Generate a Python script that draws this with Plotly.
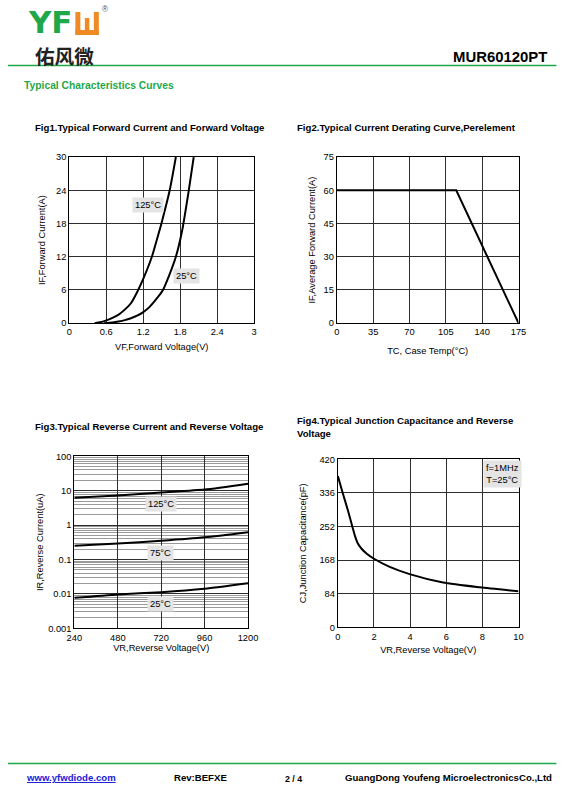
"""MUR60120PT typical characteristics curves page, redrawn with Plotly"""

import plotly.graph_objects as go

W, H = 565, 804
FONT = "Liberation Sans, Arial, sans-serif"
GREEN = "#1fa84a"
ORANGE = "#f08a24"

# the photographed page comes out slightly shrunk and shifted, so positions taken
# off the reference are mapped back through this before use
SHRINK_X, SHIFT_X = 0.97, 7.5
SHRINK_Y, SHIFT_Y = 0.987, 5.0
FONT_UP = 1 / SHRINK_X

# Fig1 - forward current vs forward voltage
fwd_v_125 = [0.41, 0.5, 0.6, 0.7, 0.8, 0.9, 1.0, 1.1, 1.2, 1.34, 1.46, 1.5, 1.63, 1.73]
fwd_i_125 = [0, 0.15, 0.5, 0.95, 1.55, 2.45, 3.6, 5.6, 8.0, 12, 16.6, 18.2, 24, 30]
fwd_v_25 = [0.56, 0.7, 0.8, 0.9, 1.0, 1.1, 1.2, 1.3, 1.43, 1.52, 1.62, 1.73, 1.83, 1.94, 2.02]
fwd_i_25 = [0, 0.12, 0.3, 0.55, 0.9, 1.35, 2.0, 2.9, 4.6, 6.0, 8.6, 12, 16.6, 24, 30]

# Fig2 - current derating
case_temp = [0, 115, 175]
avg_current = [60, 60, 0]

# Fig3 - reverse current vs reverse voltage
rev_v = [240, 480, 720, 960, 1200]
rev_i_125 = [6.2, 7.3, 8.9, 10.8, 16]
rev_i_75 = [0.25, 0.29, 0.35, 0.44, 0.62]
rev_i_25 = [0.0077, 0.0097, 0.0112, 0.0141, 0.0204]

# Fig4 - junction capacitance
cap_v = [0, 0.28, 0.55, 0.83, 0.95, 1.1, 1.3, 1.6, 1.98, 2.87, 3.97, 5.82, 7.86, 10]
cap_pf = [378, 334, 293, 247, 228, 210, 197, 184, 172, 151, 133, 112, 100, 90]


def px(x):
    return max(0.0, (x - SHIFT_X) / SHRINK_X / W)


def py(y):
    return 1 - (y - SHIFT_Y) / SHRINK_Y / H


def fs(size):
    return round(size * FONT_UP, 1)


fig = go.Figure()
line = dict(color="black", width=2)
smooth = dict(line, shape="spline", smoothing=0.6)
fig.add_trace(go.Scatter(x=fwd_v_125, y=fwd_i_125, mode="lines", line=smooth, xaxis="x", yaxis="y"))
fig.add_trace(go.Scatter(x=fwd_v_25, y=fwd_i_25, mode="lines", line=smooth, xaxis="x", yaxis="y"))
fig.add_trace(go.Scatter(x=case_temp, y=avg_current, mode="lines", line=line,
                         xaxis="x2", yaxis="y2"))
for series in (rev_i_125, rev_i_75, rev_i_25):
    fig.add_trace(go.Scatter(x=rev_v, y=series, mode="lines", line=smooth, xaxis="x3", yaxis="y3"))
fig.add_trace(go.Scatter(x=cap_v, y=cap_pf, mode="lines", line=smooth, xaxis="x4", yaxis="y4"))

tick_font = dict(family=FONT, size=fs(9), color="black")
title_font = dict(family=FONT, size=fs(9), color="black")
axis_common = dict(showline=True, linecolor="black", linewidth=1.2, mirror=True,
                   showgrid=True, gridcolor="#2e2e2e", gridwidth=1, ticks="",
                   zeroline=False, tickfont=tick_font, title_font=title_font)


def domain_x(left, right):
    return [px(left), px(right)]


def domain_y(top, bottom):
    return [py(bottom), py(top)]


fig.update_layout(
    width=W, height=H, margin=dict(l=0, r=0, t=0, b=0),
    paper_bgcolor="white", plot_bgcolor="white", showlegend=False,
    font=dict(family=FONT, color="black"),
    xaxis=dict(axis_common, domain=domain_x(69, 254), anchor="y", range=[0, 3],
               tickvals=[0, 0.6, 1.2, 1.8, 2.4, 3],
               title=dict(text="VF,Forward Voltage(V)", standoff=7)),
    yaxis=dict(axis_common, domain=domain_y(157, 323), anchor="x", range=[0, 30], dtick=6,
               title=dict(text="IF,Forward Current(A)", standoff=8)),
    xaxis2=dict(axis_common, domain=domain_x(337, 519), anchor="y2", range=[0, 175], dtick=35,
                title=dict(text="TC, Case Temp(°C)", standoff=11)),
    yaxis2=dict(axis_common, domain=domain_y(157, 323), anchor="x2", range=[0, 75], dtick=15,
                title=dict(text="IF,Average Forward Current(A)", standoff=6)),
    xaxis3=dict(axis_common, domain=domain_x(74, 248), anchor="y3", range=[240, 1200],
                tickvals=rev_v, title=dict(text="VR,Reverse Voltage(V)", standoff=0)),
    yaxis3=dict(axis_common, domain=domain_y(456, 628), anchor="x3", type="log", range=[-3, 2],
                tickvals=[0.001, 0.01, 0.1, 1, 10, 100],
                ticktext=["0.001", "0.01", "0.1", "1", "10", "100"],
                minor=dict(dtick="D1", showgrid=True, gridcolor="#9a9a9a", gridwidth=1, ticks=""),
                title=dict(text="IR,Reverse Current(uA)", standoff=2)),
    xaxis4=dict(axis_common, domain=domain_x(338, 519), anchor="y4", range=[0, 10], dtick=2,
                title=dict(text="VR,Reverse Voltage(V)", standoff=5)),
    yaxis4=dict(axis_common, domain=domain_y(459, 627), anchor="x4", range=[0, 420], dtick=84,
                title=dict(text="CJ,Junction Capacitance(pF)", standoff=11)),
)

label_box = dict(showarrow=False, bgcolor="#e4e4e4",
                 font=dict(family=FONT, size=fs(9), color="black"), borderpad=2)
fig.add_annotation(label_box, x=1.28, y=21.4, xref="x", yref="y", text="125°C")
fig.add_annotation(label_box, x=1.91, y=8.6, xref="x", yref="y", text="25°C")
fig.add_annotation(label_box, x=718, y=0.62, xref="x3", yref="y3", text="125°C")
fig.add_annotation(label_box, x=716, y=-0.8, xref="x3", yref="y3", text="75°C")
fig.add_annotation(label_box, x=716, y=-2.3, xref="x3", yref="y3", text="25°C")
fig.add_annotation(label_box, x=9.1, y=384, xref="x4", yref="y4", text="f=1MHz<br>T=25°C",
                   align="center")

# page texts
page_text = [
    (33, 127, "<b>Fig1.Typical Forward Current and Forward Voltage</b>", 9.3, "black"),
    (295, 127, "<b>Fig2.Typical Current Derating Curve,Perelement</b>", 9.3, "black"),
    (33, 426, "<b>Fig3.Typical Reverse Current and Reverse Voltage</b>", 9.3, "black"),
    (295, 420, "<b>Fig4.Typical Junction Capacitance and Reverse</b>", 9.3, "black"),
    (295, 433, "<b>Voltage</b>", 9.3, "black"),
    (22, 85, "<b>Typical Characteristics Curves</b>", 10, GREEN),
    (172, 777, "<b>Rev:BEFXE</b>", 9.3, "black"),
    (343, 777, "<b>GuangDong Youfeng MicroelectronicsCo.,Ltd</b>", 9.3, "black"),
    (283, 779, "<b>2 / 4</b>", 8.5, "black"),
    (24, 777, "<b><u>www.yfwdiode.com</u></b>", 9.3, "#1a1ad8"),
]
for x, y, text, size, color in page_text:
    fig.add_annotation(x=px(x), y=py(y), xref="paper", yref="paper", text=text, showarrow=False,
                       xanchor="left", yanchor="middle",
                       font=dict(family=FONT, size=fs(size), color=color))

fig.add_annotation(x=px(550), y=py(57), xref="paper", yref="paper", text="<b>MUR60120PT</b>",
                   showarrow=False, xanchor="right", yanchor="middle",
                   font=dict(family=FONT, size=fs(14.5), color="black"))

# logo: green letters, orange block letter drawn as bars, then the chinese name
fig.add_annotation(x=px(26), y=py(22), xref="paper", yref="paper", text="<b>YF</b>", showarrow=False,
                   xanchor="left", yanchor="middle",
                   font=dict(family="DejaVu Sans, sans-serif", size=fs(30), color=GREEN))
logo_bars = [(75, 12, 80, 35), (93.5, 12, 98.5, 35), (75, 30, 98.5, 35), (84.5, 18, 89, 35)]
for x0, y0, x1, y1 in logo_bars:
    fig.add_shape(type="rect", xref="paper", yref="paper", x0=px(x0), x1=px(x1),
                  y0=py(y1), y1=py(y0), fillcolor=ORANGE, line=dict(width=0))
fig.add_annotation(x=px(100), y=py(9), xref="paper", yref="paper", text="®", showarrow=False,
                   xanchor="left", yanchor="middle", font=dict(family=FONT, size=fs(8), color="#555"))
fig.add_annotation(x=px(33), y=py(55), xref="paper", yref="paper", text="<b>佑风微</b>",
                   showarrow=False, xanchor="left", yanchor="middle",
                   font=dict(family="Noto Sans CJK SC", size=fs(19), color="#222"))

fig.add_shape(type="line", xref="paper", yref="paper", x0=px(5), x1=px(557), y0=py(65.5), y1=py(65.5),
              line=dict(color=GREEN, width=1.5))
fig.add_shape(type="line", xref="paper", yref="paper", x0=px(5), x1=px(557), y0=py(763), y1=py(763),
              line=dict(color=GREEN, width=1.5))

# drop the default body margin so the figure sits flush in the 565x804 window
page_css = ("document.body.style.margin='0';"
            "document.body.style.overflow='hidden';"
            "document.documentElement.style.overflow='hidden';")
fig.write_html("out.html", post_script=page_css, config={"displayModeBar": False})
